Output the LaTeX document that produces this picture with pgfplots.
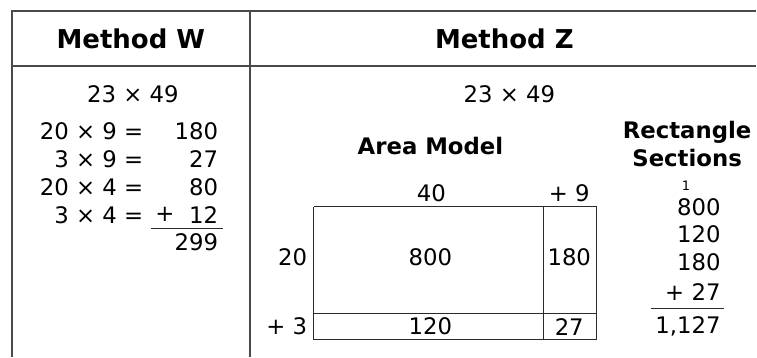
\documentclass[border=0pt]{standalone}
\usepackage{fontspec}
\setmainfont{DejaVu Sans}
\usepackage{pgfplots}
\pgfplotsset{compat=1.18}
\definecolor{ink}{HTML}{2A2A2A}
\definecolor{rule}{HTML}{4A4A4A}
\newcommand{\bodyf}{\fontsize{22.8}{27}\selectfont}
\newcommand{\headf}{\fontsize{26}{30}\selectfont\bfseries}
\newcommand{\subf}{\fontsize{22.8}{27}\selectfont\bfseries}
\begin{document}
\begin{tikzpicture}
\begin{axis}[scale only axis, width=757pt, height=357pt,
  xmin=0, xmax=757, ymin=0, ymax=357, y dir=reverse,
  hide axis, clip=false,
  every node/.append style={inner sep=0pt, text=ink}]
\fill[white] (axis cs:0,0) rectangle (axis cs:757,357);
% table frame
\addplot[rule, line width=2pt] coordinates {(12,357) (12,11) (757,11)};
\addplot[rule, line width=2pt] coordinates {(12,66) (757,66)};
\addplot[rule, line width=2pt] coordinates {(250,11) (250,357)};
% headers
\node[font=\headf] at (axis cs:131,39) {Method W};
\node[font=\headf] at (axis cs:505,39) {Method Z};
% Method W
\node[font=\bodyf] at (axis cs:133,94) {23 × 49};
\node[font=\bodyf, anchor=east] at (axis cs:147,131) {20 × 9 =};
\node[font=\bodyf, anchor=east] at (axis cs:147,159) {3 × 9 =};
\node[font=\bodyf, anchor=east] at (axis cs:147,187) {20 × 4 =};
\node[font=\bodyf, anchor=east] at (axis cs:147,215) {3 × 4 =};
\node[font=\bodyf, anchor=east] at (axis cs:222,131) {180};
\node[font=\bodyf, anchor=east] at (axis cs:222,159) {27};
\node[font=\bodyf, anchor=east] at (axis cs:222,187) {80};
\node[font=\bodyf, anchor=east] at (axis cs:222,215) {12};
\node[font=\bodyf, anchor=west] at (axis cs:152,215) {+};
\addplot[ink, line width=1.5pt] coordinates {(151,229) (223,229)};
\node[font=\bodyf, anchor=east] at (axis cs:222,243) {299};
% Method Z
\node[font=\bodyf] at (axis cs:510,94) {23 × 49};
\node[font=\subf] at (axis cs:431,146) {Area Model};
\node[font=\subf] at (axis cs:688,132) {Rectangle};
\node[font=\subf] at (axis cs:688,158) {Sections};
% area model
\addplot[ink, line width=1.3pt] coordinates {(314,207) (597,207) (597,340) (314,340) (314,207)};
\addplot[ink, line width=1.3pt] coordinates {(544,207) (544,340)};
\addplot[ink, line width=1.3pt] coordinates {(314,314) (597,314)};
\node[font=\bodyf] at (axis cs:432,193) {40};
\node[font=\bodyf] at (axis cs:570,193) {+ 9};
\node[font=\bodyf, anchor=east] at (axis cs:311,258) {20};
\node[font=\bodyf, anchor=east] at (axis cs:311,327) {+ 3};
\node[font=\bodyf] at (axis cs:431,258) {800};
\node[font=\bodyf] at (axis cs:570,258) {180};
\node[font=\bodyf] at (axis cs:431,327) {120};
\node[font=\bodyf] at (axis cs:570,327) {27};
% rectangle sections
\node[font=\fontsize{13}{15}\selectfont] at (axis cs:687,186) {1};
\node[font=\bodyf, anchor=east] at (axis cs:725,207) {800};
\node[font=\bodyf, anchor=east] at (axis cs:725,235) {120};
\node[font=\bodyf, anchor=east] at (axis cs:725,263) {180};
\node[font=\bodyf, anchor=east] at (axis cs:725,292) {+ 27};
\addplot[ink, line width=1.5pt] coordinates {(652,309) (725,309)};
\node[font=\bodyf, anchor=east] at (axis cs:725,327) {1,127};
\end{axis}
\end{tikzpicture}
\end{document}
